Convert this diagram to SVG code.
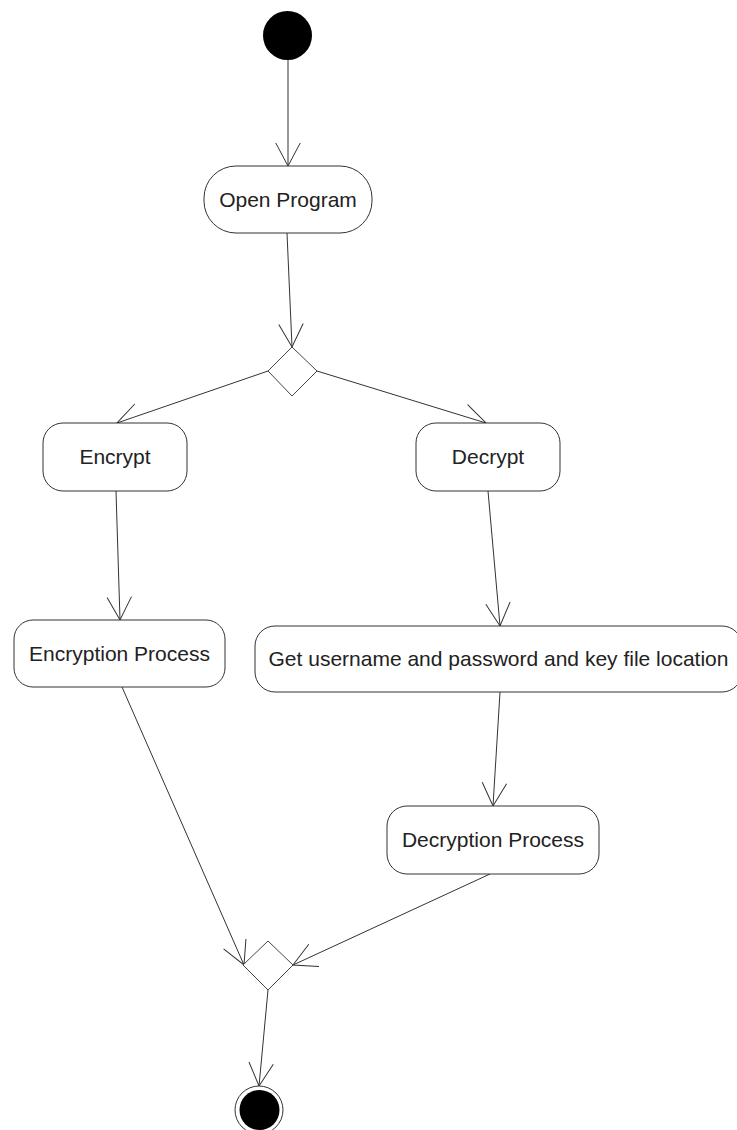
<svg xmlns="http://www.w3.org/2000/svg" width="737" height="1130" viewBox="0 0 737 1130">
<style>
.act{fill:#fff;stroke:#333;stroke-width:1}
.lbl{font-family:"Liberation Sans",Arial,sans-serif;font-size:21px;fill:#222;text-anchor:middle}
.edge{fill:none;stroke:#333;stroke-width:1;marker-end:url(#arr)}
.dec{fill:#fff;stroke:#444;stroke-width:1}
</style>
<defs>
<marker id="arr" markerUnits="userSpaceOnUse" markerWidth="30" markerHeight="30" viewBox="-25 -15 30 30" refX="0" refY="0" orient="auto" overflow="visible">
<path d="M-23,-12.2 L0,0 L-23,12.2" fill="none" stroke="#333" stroke-width="1"/>
</marker>
</defs>
<rect width="737" height="1130" fill="#fff"/>
<g id="connectors">
<line class="edge" x1="288" y1="60" x2="288" y2="166"/>
<line class="edge" x1="287" y1="233" x2="292" y2="347"/>
<line class="edge" x1="268" y1="371" x2="117" y2="423"/>
<line class="edge" x1="317" y1="371" x2="486" y2="423"/>
<line class="edge" x1="116" y1="491" x2="120" y2="620"/>
<line class="edge" x1="488" y1="491" x2="500" y2="626"/>
<line class="edge" x1="500" y1="692" x2="493" y2="806"/>
<line class="edge" x1="122" y1="687" x2="244" y2="965"/>
<line class="edge" x1="490" y1="874" x2="293" y2="965"/>
<line class="edge" x1="268" y1="990" x2="259" y2="1086"/>
</g>
<g id="start">
<circle cx="287.5" cy="35.5" r="24.5" fill="#000"/>
</g>
<g id="open-program">
<rect class="act" x="204" y="166" width="168" height="67" rx="32" ry="32"/>
<text class="lbl" x="288" y="207">Open Program</text>
</g>
<g id="decision">
<polygon class="dec" points="292,347 317,371 292,396 268,371"/>
</g>
<g id="encrypt">
<rect class="act" x="43" y="423" width="144" height="68" rx="20" ry="20"/>
<text class="lbl" x="115" y="464">Encrypt</text>
</g>
<g id="decrypt">
<rect class="act" x="416" y="423" width="144" height="68" rx="20" ry="20"/>
<text class="lbl" x="488" y="464">Decrypt</text>
</g>
<g id="encryption-process">
<rect class="act" x="14" y="620" width="211" height="67" rx="19" ry="19"/>
<text class="lbl" x="119.5" y="661">Encryption Process</text>
</g>
<g id="get-credentials">
<rect class="act" x="255" y="626" width="487" height="66" rx="20" ry="20"/>
<text class="lbl" x="498.5" y="666">Get username and password and key file location</text>
</g>
<g id="decryption-process">
<rect class="act" x="387" y="806" width="212" height="68" rx="20" ry="20"/>
<text class="lbl" x="493" y="847">Decryption Process</text>
</g>
<g id="merge">
<polygon class="dec" points="268,941 293,965 268,990 243,965"/>
</g>
<g id="end">
<circle cx="259" cy="1110" r="24" fill="#fff" stroke="#333" stroke-width="1"/>
<circle cx="259.5" cy="1110" r="20" fill="#000"/>
</g>
</svg>
